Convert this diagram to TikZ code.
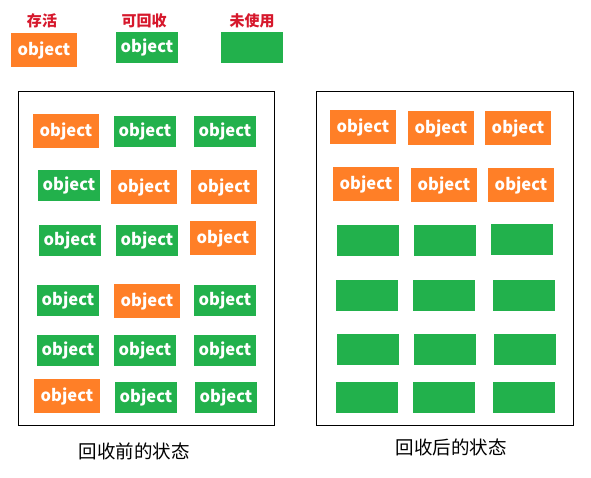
\documentclass[tikz,border=0pt]{standalone}
\usepackage{fontspec}
\usepackage{tikz}
\usetikzlibrary{positioning}
\newfontfamily\cjk{Noto Sans CJK SC}
\definecolor{LiveOrange}{RGB}{255,127,39}
\definecolor{GarbageGreen}{RGB}{34,177,76}
\definecolor{LabelRed}{RGB}{214,24,44}
\tikzset{
  alive/.style={fill=LiveOrange,text=white,minimum width=66pt,minimum height=34pt,
    inner sep=0pt,font=\cjk\bfseries\fontsize{16.5}{18}\selectfont},
  dead/.style={alive,fill=GarbageGreen,minimum width=62pt,minimum height=31pt},
  free/.style={dead},
  legend/.style={text=LabelRed,font=\cjk\bfseries\fontsize{15}{17}\selectfont},
  caption/.style={font=\cjk\fontsize{18.5}{20}\selectfont},
  heapframe/.style={draw=black,line width=1pt}
}

\begin{document}
\begin{tikzpicture}[x=1pt,y=-1pt]
  \useasboundingbox (0,0) rectangle (591,477);
  % legend
  \node[alive] (keyalive) at (44,50) {object};
  \node[dead] (keydead) at (147,47.5) {object};
  \node[free] (keyfree) at (252,47.5) {};
  \node[legend] (keyalivetext) at (42,21) {存活};
  \node[legend] (keydeadtext) at (144,21) {可回收};
  \node[legend] (keyfreetext) at (252,21) {未使用};
  % heap before collection
  \draw[heapframe] (18,91) rectangle (274,425);
  \foreach \x/\y/\kind [count=\i] in {66/131/alive,145/131/dead,225/131/dead,
      69/185.5/dead,144/187/alive,224/187/alive,
      70/240/dead,147/240/dead,223/238/alive,
      68/300/dead,147/301/alive,225/300/dead,
      68/350.5/dead,145/350/dead,225/350.5/dead,
      67/396/alive,146/397.5/dead,226/397.5/dead}
    \node[\kind] (pre\i) at (\x,\y) {object};
  \node[caption] (precaption) at (134,451) {回收前的状态};
  % heap after collection
  \draw[heapframe] (316,91) rectangle (573,425);
  \foreach \x/\y [count=\i] in {363/127,441/128,518/128,366/184,444/185,521/185}
    \node[alive] (postlive\i) at (\x,\y) {object};
  \foreach \x/\y [count=\i] in {368/240,445/240,522/239,
      367/295.5,444/295.5,524/295.5,
      368/349.5,445/349.5,525/349.5,
      367/397.5,444/397.5,524/397.5}
    \node[free] (postfree\i) at (\x,\y) {};
  \node[caption] (postcaption) at (451,447) {回收后的状态};
\end{tikzpicture}
\end{document}
